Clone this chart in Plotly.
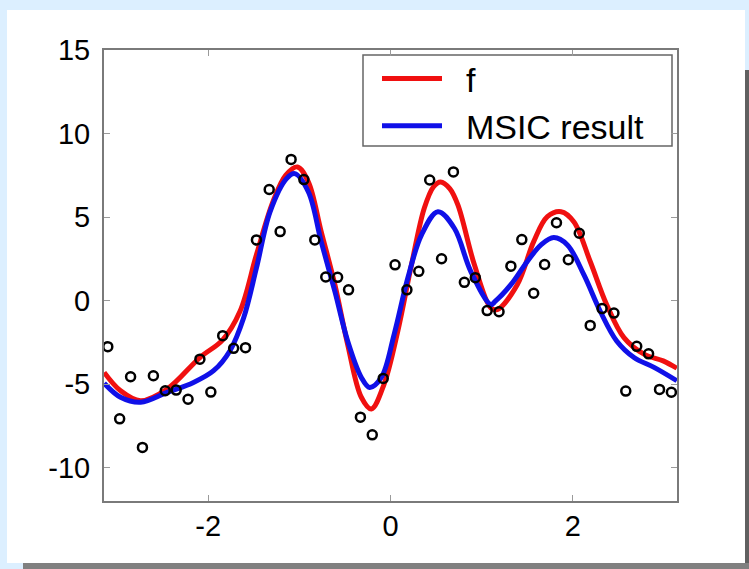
import plotly.graph_objects as go

# noisy samples (open circles)
pts_x = [-3.10, -2.97, -2.85, -2.72, -2.60, -2.47, -2.35, -2.22, -2.09, -1.97,
         -1.84, -1.72, -1.59, -1.47, -1.33, -1.21, -1.09,
         -0.95, -0.83, -0.71, -0.58, -0.46, -0.33, -0.20, -0.08, 0.05,
         0.18, 0.31, 0.43, 0.56, 0.69, 0.81, 0.93, 1.06,
         1.19, 1.32, 1.44, 1.57, 1.69, 1.82, 1.95, 2.07, 2.19, 2.32,
         2.45, 2.58, 2.70, 2.83, 2.95, 3.08]
pts_y = [-2.76, -7.08, -4.56, -8.79, -4.50, -5.40, -5.36, -5.91, -3.51, -5.48,
         -2.10, -2.86, -2.82, 3.63, 6.65, 4.13, 8.45,
         7.24, 3.63, 1.41, 1.39, 0.64, -6.98, -8.04, -4.66, 2.14,
         0.64, 1.75, 7.22, 2.50, 7.70, 1.09, 1.37, -0.60,
         -0.67, 2.06, 3.65, 0.44, 2.16, 4.66, 2.44, 4.03, -1.49, -0.48,
         -0.75, -5.42, -2.74, -3.19, -5.32, -5.49]

# true function f
f_x = [-3.14, -2.96, -2.74, -2.45, -2.09, -1.84, -1.65, -1.47, -1.29, -1.15,
       -1.02, -0.90, -0.76, -0.61, -0.47, -0.32, -0.21, -0.07, 0.08, 0.23,
       0.37, 0.47, 0.55, 0.65, 0.74, 0.92, 1.10, 1.17, 1.39, 1.57, 1.72, 1.87, 2.01,
       2.19, 2.37, 2.56, 2.78, 2.99, 3.14]
f_y = [-4.3, -5.4, -6.0, -5.3, -3.41, -2.35, -0.64, 2.74, 5.9, 7.5,
       8.0, 7.1, 4.13, 0.95, -2.62, -5.79, -6.49, -5.0, -1.83, 2.14,
       5.52, 6.8, 7.1, 6.7, 5.71, 2.14, -0.44, -0.54, 0.95, 3.53, 5.02, 5.32, 4.72,
       2.34, -0.24, -2.22, -3.21, -3.61, -4.05]

# MSIC result
m_x = [-3.14, -2.96, -2.74, -2.45, -2.16, -1.94, -1.76, -1.61, -1.47, -1.32,
       -1.14, -1.05, -0.90, -0.76, -0.61, -0.47, -0.32, -0.23, -0.10, 0.04,
       0.19, 0.34, 0.52, 0.70, 0.88, 1.10, 1.15, 1.32, 1.50, 1.65, 1.79,
       1.94, 2.12, 2.30, 2.48, 2.67, 2.89, 3.14]
m_y = [-4.95, -5.79, -6.09, -5.5, -4.9, -4.2, -3.0, -1.03, 1.95, 5.32,
       7.3, 7.6, 6.5, 3.53, 0.55, -2.42, -4.6, -5.2, -4.6, -2.02,
       1.35, 3.93, 5.32, 4.33, 1.75, -0.24, -0.04, 0.95, 2.34, 3.33, 3.77,
       3.33, 1.55, -0.64, -2.42, -3.41, -4.0, -4.8]

x_ticks = [-2, 0, 2]
x_ticktext = ["-2", "0", "2"]
y_ticks = [-10, -5, 0, 5, 10, 15]
y_ticktext = ["-10", "-5", "0", "5", "10", "15"]
series_names = ["\u00a0\u00a0f", "\u00a0\u00a0MSIC result"]

FONT = "Liberation Sans, Arial, Helvetica, sans-serif"

fig = go.Figure()
fig.add_trace(go.Scatter(x=f_x, y=f_y, mode="lines", name=series_names[0],
                         line=dict(color="#f01010", width=5, shape="spline", smoothing=1.0)))
fig.add_trace(go.Scatter(x=m_x, y=m_y, mode="lines", name=series_names[1],
                         line=dict(color="#1010e8", width=5, shape="spline", smoothing=1.0)))
fig.add_trace(go.Scatter(x=pts_x, y=pts_y, mode="markers", showlegend=False,
                         marker=dict(symbol="circle-open", size=9, color="black",
                                     line=dict(width=2.5, color="black"))))

axis_common = dict(showgrid=False, zeroline=False, showline=True, mirror="ticks",
                   linecolor="#7a7a7a", linewidth=2, ticks="inside", ticklen=6,
                   tickcolor="#9a9a9a", tickwidth=1,
                   tickfont=dict(family=FONT, size=29, color="black"))

# plot area in pixels: x 104..677, y 50..501
PW, PH = 573, 451

def px(x):
    return (x - 104) / PW

def py(y):
    return (501 - y) / PH

fig.update_layout(
    width=749, height=569,
    margin=dict(l=104, r=72, t=50, b=68),
    paper_bgcolor="#dcefff",
    plot_bgcolor="white",
    xaxis=dict(range=[-3.1416, 3.1416], tickvals=x_ticks, ticktext=x_ticktext,
               ticklabelstandoff=-2, **axis_common),
    yaxis=dict(range=[-12, 15], tickvals=y_ticks, ticktext=y_ticktext,
               ticklabelstandoff=6, **axis_common),
    legend=dict(x=px(377), y=py(50), xanchor="left", yanchor="top",
                bgcolor="rgba(0,0,0,0)", borderwidth=0,
                font=dict(family=FONT, size=34, color="black"),
                itemwidth=60, tracegroupgap=0),
    shapes=[
        dict(type="rect", xref="paper", yref="paper", layer="below",
             x0=px(7), x1=px(745), y0=py(563), y1=py(10),
             fillcolor="white", line=dict(width=0)),
        dict(type="rect", xref="paper", yref="paper", layer="below",
             x0=px(23), x1=px(749), y0=py(569), y1=py(563),
             fillcolor="#808080", line=dict(width=0)),
        dict(type="rect", xref="paper", yref="paper", layer="below",
             x0=px(745), x1=px(749), y0=py(563), y1=py(70),
             fillcolor="#606060", line=dict(width=0)),
        dict(type="rect", xref="paper", yref="paper", layer="below",
             x0=px(363), x1=px(672), y0=py(146), y1=py(55),
             fillcolor="white", line=dict(width=1.5, color="#666666")),
    ],
)

fig.write_html("out.html")
